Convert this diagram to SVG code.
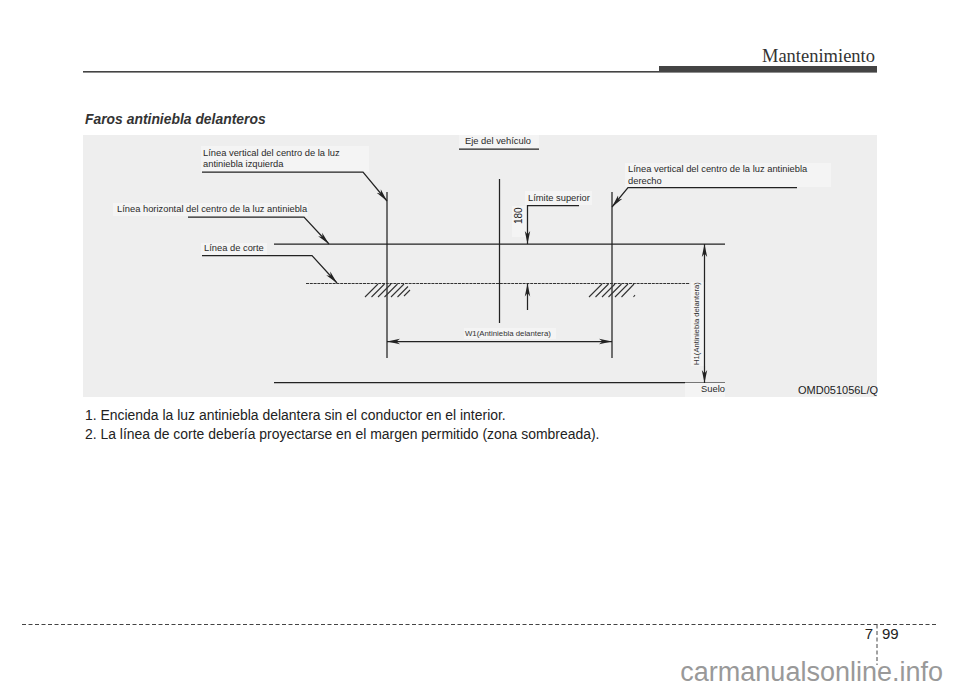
<svg xmlns="http://www.w3.org/2000/svg" width="960" height="689" viewBox="0 0 960 689">
<style>
text{font-family:"Liberation Sans",Arial,sans-serif;fill:#222}
.d{font-size:9.35px;fill:#2a2a2a}
.l{stroke:#222;stroke-width:1.25;fill:none}
.t{stroke:#333;stroke-width:1.1;fill:none}
.lab{fill:#f4f4f4}
.dash{stroke:#333;stroke-width:1.2;stroke-dasharray:3 0.8;fill:none}
</style>
<defs>
<marker id="a" markerWidth="14" markerHeight="8" refX="13" refY="4" orient="auto-start-reverse" markerUnits="userSpaceOnUse"><path d="M0 1.300L13 4L0 6.700L3.500 4Z" fill="#222"/></marker>
</defs>
<rect width="960" height="689" fill="#fff"/>
<g id="header">
<text x="875" y="62" text-anchor="end" style="font-family:'Liberation Serif',serif;font-size:18.5px;fill:#333">Mantenimiento</text>
<rect x="83" y="71" width="576" height="1.600" fill="#444"/>
<rect x="659" y="66" width="218" height="6.600" fill="#444"/>
</g>
<text id="title" x="85" y="124" style="font-size:13.9px;font-weight:bold;font-style:italic;fill:#333">Faros antiniebla delanteros</text>
<rect id="panel" x="83" y="135" width="794" height="262" fill="#eee"/>
<g id="labels">
<rect class="lab" x="201" y="146" width="168" height="26"/>
<rect class="lab" x="625" y="163" width="206" height="24"/>
<rect class="lab" x="459" y="135" width="80" height="14"/>
<rect class="lab" x="525" y="191" width="67" height="14"/>
<rect class="lab" x="113" y="203" width="195" height="13"/>
<rect class="lab" x="201" y="243" width="66" height="12"/>
<rect class="lab" x="512" y="206" width="14" height="31"/>
<rect class="lab" x="691" y="282" width="15" height="84"/>
<rect class="lab" x="685" y="383" width="40" height="14"/>
<rect class="lab" x="464" y="328" width="92" height="11"/>
</g>
<g id="node-eje"><text class="d" x="465" y="144">Eje del vehículo</text></g>
<g id="node-izq"><text class="d" x="203" y="156">Línea vertical del centro de la luz</text><text class="d" x="203" y="167">antiniebla izquierda</text></g>
<g id="node-der"><text class="d" x="628" y="172">Línea vertical del centro de la luz antiniebla</text><text class="d" x="628" y="184">derecho</text></g>
<g id="node-limite"><text class="d" x="528" y="201">Límite superior</text></g>
<g id="node-horizontal"><text class="d" x="117" y="212">Línea horizontal del centro de la luz antiniebla</text></g>
<g id="node-corte"><text class="d" x="204" y="251">Línea de corte</text></g>
<g id="node-180"><text transform="translate(522,224) rotate(-90)" style="font-size:10px" fill="#222">180</text></g>
<g id="node-w1"><text x="465" y="336" style="font-size:7.8px;fill:#333">W1(Antiniebla delantera)</text></g>
<g id="node-h1"><text transform="translate(699,365) rotate(-90)" style="font-size:7.7px;fill:#333">H1(Antiniebla delantera)</text></g>
<g id="node-suelo"><text class="d" x="701" y="392">Suelo</text></g>
<g id="node-code"><text x="798" y="394" style="font-size:11px;fill:#222">OMD051056L/Q</text></g>
<g id="connectors">
<path class="l" d="M387 192V358M612 192V358M499.500 179V323"/>
<path class="l" d="M274 244H725M274 382.500H685"/>
<path d="M685 382.500H725" stroke="#777" stroke-width="1" fill="none"/>
<path class="dash" d="M306 283.500H690"/>
<path class="l" d="M202 172H363L387 201" marker-end="url(#a)"/>
<path class="l" d="M188 217H304L329 244" marker-end="url(#a)"/>
<path class="l" d="M202 255.500H312L337 283" marker-end="url(#a)"/>
<path class="l" d="M797 187.500H628L612 207" marker-end="url(#a)"/>
<path class="l" d="M459 149H539"/>
<path class="l" d="M579 205.500H527.500V244" marker-end="url(#a)"/>
<path class="l" d="M527.500 310V283.500" marker-end="url(#a)"/>
<path class="l" d="M387 341.500H612" marker-start="url(#a)" marker-end="url(#a)"/>
<path class="l" d="M704.500 244V383" marker-start="url(#a)" marker-end="url(#a)"/>
<path class="t" d="M365 297L378 284M371.500 297L384.500 284M378 297L391 284M384.500 297L397.500 284M391 297L404 284M397.500 297L408 286.500M404 296L410 290M589 297L602 284M595.500 297L608.500 284M602 297L615 284M608.500 297L621.500 284M615 297L628 284M621.500 297L634 284M633.500 297L635 295"/>
</g>
<g id="body">
<text x="85" y="420" style="font-size:13.95px;fill:#222">1. Encienda la luz antiniebla delantera sin el conductor en el interior.</text>
<text x="85" y="439" style="font-size:13.95px;fill:#222">2. La línea de corte debería proyectarse en el margen permitido (zona sombreada).</text>
</g>
<g id="footer">
<path d="M22 624.500H937M877 624.500V665" stroke="#444" stroke-width="1" stroke-dasharray="4 2.500" fill="none"/>
<text x="873" y="639" text-anchor="end" style="font-size:15px">7</text>
<text x="882" y="639" style="font-size:15px">99</text>
</g>
<text id="watermark" x="943" y="681" text-anchor="end" style="font-size:27px;fill:#999">carmanualsonline.info</text>
</svg>
